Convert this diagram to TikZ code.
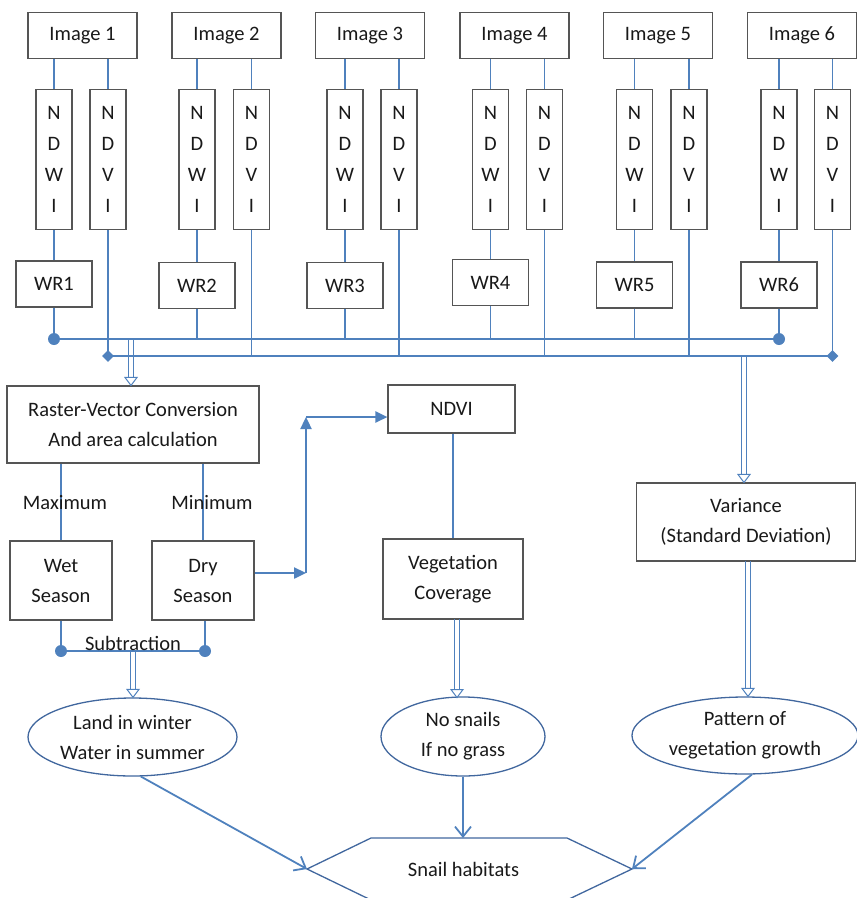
\documentclass[tikz,border=0pt]{standalone}
\usepackage{fontspec}
\setmainfont{Carlito}
\usetikzlibrary{arrows.meta,shapes.geometric}
\definecolor{lnblue}{HTML}{4F81BD}
\definecolor{ovblue}{HTML}{41679E}
\definecolor{boxgray}{HTML}{555555}
\newcommand\dblarr[2]{%
  \draw[dline] ([xshift=-2.3pt]#1) -- ([xshift=-2.3pt,yshift=8pt]#2);
  \draw[dline] ([xshift=2.3pt]#1) -- ([xshift=2.3pt,yshift=8pt]#2);
  \draw[dline, fill=white] (#2) -- ([xshift=-6pt,yshift=8pt]#2) -- ([xshift=6pt,yshift=8pt]#2) -- cycle;}
\begin{document}
\begin{tikzpicture}[x=1pt,y=-1pt,
  every node/.style={font=\fontsize{20.5}{30}\selectfont, inner sep=0pt, align=center, text=black!90},
  box/.style={draw=boxgray, line width=1.1pt, fill=white},
  vbox/.style={box, minimum width=36pt, minimum height=140pt, font=\fontsize{20.5}{31}\selectfont},
  oval/.style={ellipse, draw=ovblue, line width=1.3pt},
  conn/.style={draw=lnblue, line width=1.2pt},
  dline/.style={draw=lnblue, line width=1pt, line join=miter},
  bus/.style={draw=lnblue, line width=2.4pt},
  dot/.style={circle, fill=lnblue, minimum size=12pt},
  dia/.style={diamond, fill=lnblue, minimum size=12pt},
  farrow/.style={draw=lnblue, line width=2.4pt, -{Triangle[length=12pt,width=11pt]}},
  sarrow/.style={draw=lnblue, line width=1.8pt, -{Straight Barb[length=10pt,width=16pt]}}
]
\useasboundingbox (0,0) rectangle (857,898);

\coordinate (b1) at (0,339);
\coordinate (b2) at (0,356);

\foreach \i/\ic/\wc/\vc/\wry in {1/82.5/54/108/284, 2/226.5/197/251.5/285.5, 3/370/345/399/285.5, 4/514.5/490.5/544.5/282.5, 5/658/634.5/689/285, 6/802/779/832.5/285}{
  \node[box, minimum width=109pt, minimum height=46pt] (img\i) at (\ic,35.5) {Image \i};
  \node[vbox] (ndwi\i) at (\wc,159.5) {N\\D\\W\\I};
  \node[vbox] (ndvi\i) at (\vc,159.5) {N\\D\\V\\I};
  \node[box, minimum width=76pt, minimum height=46pt] (wr\i) at (\wc,\wry) {WR\i};
  \draw[conn] (ndwi\i.north) -- (ndwi\i.north |- img\i.south);
  \draw[conn] (ndvi\i.north) -- (ndvi\i.north |- img\i.south);
  \draw[conn] (ndwi\i.south) -- (wr\i.north);
  \draw[conn] (wr\i.south) -- (wr\i.south |- b1);
  \draw[conn] (ndvi\i.south) -- (ndvi\i.south |- b2);
}

\node[dot] (c1) at (wr1.south |- b1) {};
\node[dot] (c6) at (wr6.south |- b1) {};
\node[dia] (d1) at (ndvi1.south |- b2) {};
\node[dia] (d6) at (ndvi6.south |- b2) {};
\draw[bus] (c1.center) -- (c6.center);
\draw[bus] (d1.center) -- (d6.center);

% Raster branch
\node[box, minimum width=252pt, minimum height=77pt] (raster) at (133,424.5) {Raster-Vector Conversion\\And area calculation};
\coordinate (da1) at (131,339);
\coordinate (ea1) at (da1 |- raster.north);
\dblarr{da1}{ea1}

\node[box, minimum width=102pt, minimum height=79pt] (wet) at (61,580.5) {Wet\\Season};
\node[box, minimum width=102pt, minimum height=79pt] (dry) at (203,580.5) {Dry\\Season};
\draw[conn] (wet.north) -- (wet.north |- raster.south);
\draw[conn] (dry.north) -- (dry.north |- raster.south);
\node (max) at (65,503) {Maximum};
\node (min) at (212,503) {Minimum};

% Dry -> NDVI
\node[box, minimum width=127pt, minimum height=48pt] (ndvi) at (451.5,409) {NDVI};
\coordinate (k1) at (306,573);
\coordinate (k2) at (306,417);
\draw[farrow] (dry.east |- k1) -- (k1);
\draw[farrow] (k1) -- (k2);
\draw[farrow] (k2) -- (k2 -| ndvi.west);

\node[box, minimum width=140pt, minimum height=80pt] (veg) at (453,579) {Vegetation\\Coverage};
\draw[conn] (veg.north) -- (veg.north |- ndvi.south);

% Variance
\node[box, minimum width=219pt, minimum height=78pt] (var) at (746,522) {Variance\\(Standard Deviation)};
\coordinate (da2) at (744,356);
\coordinate (ea2) at (da2 |- var.north);
\dblarr{da2}{ea2}

% Subtraction
\node[dot] (s1) at (61,651) {};
\node[dot] (s2) at (205,651) {};
\draw[conn] (wet.south) -- (s1.center);
\draw[conn] (s2.center |- dry.south) -- (s2.center);
\draw[bus] (s1.center) -- (s2.center);
\node (sub) at (133,643) {Subtraction};

% Ellipses
\node[oval, minimum width=209pt, minimum height=78pt] (land) at (132.5,737) {Land in winter\\Water in summer};
\node[oval, minimum width=164pt, minimum height=79pt] (nosn) at (463,736.5) {No snails\\If no grass};
\node[oval, minimum width=226pt, minimum height=77pt] (patt) at (745,735.5) {Pattern of\\vegetation growth};

\coordinate (da3) at (133,652);
\coordinate (ea3) at (da3 |- land.north);
\dblarr{da3}{ea3}
\coordinate (da4) at (457,619);
\coordinate (ea4) at (457,697.5);
\dblarr{da4}{ea4}
\coordinate (da5) at (748,561);
\coordinate (ea5) at (da5 |- patt.north);
\dblarr{da5}{ea5}

% Hexagon
\coordinate (h1) at (371,838);
\coordinate (h2) at (567,838);
\coordinate (h3) at (632,869);
\coordinate (h4) at (567,900);
\coordinate (h5) at (371,900);
\coordinate (h6) at (307,869);
\draw[draw=ovblue, line width=1.3pt] (h1) -- (h2) -- (h3) -- (h4) -- (h5) -- (h6) -- cycle;
\node (snail) at (463.5,869) {Snail habitats};

\draw[sarrow] (land.-78) -- (h6);
\draw[sarrow] (nosn.south) -- (nosn.south |- h1);
\draw[sarrow] (patt.-80) -- (h3);
\end{tikzpicture}
\end{document}
